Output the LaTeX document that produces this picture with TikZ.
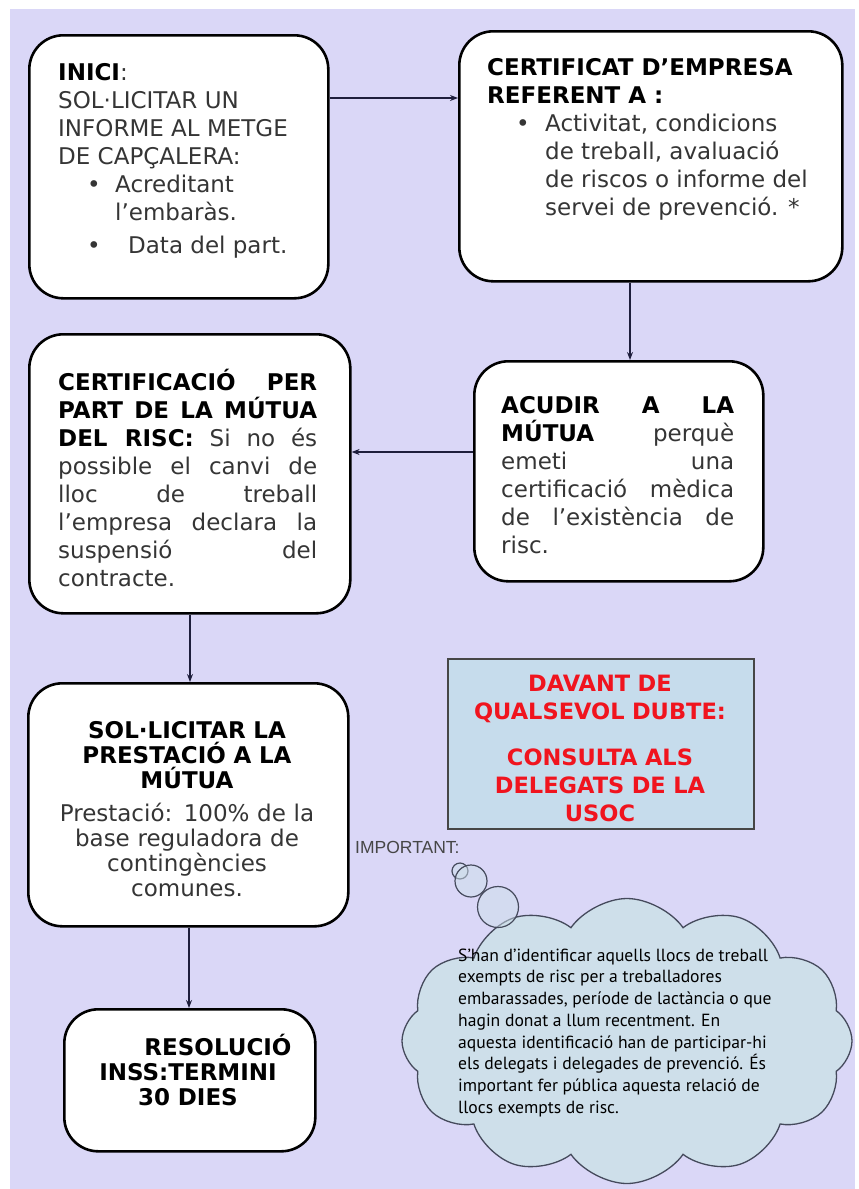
\documentclass[tikz,border=0pt]{standalone}
\usepackage{fontspec}
\setmainfont{DejaVu Sans}
\newfontfamily\cloudfont{PT Sans}
\newfontfamily\impfont{Liberation Sans}
\usetikzlibrary{arrows.meta,shapes.symbols,calc}
\definecolor{bg}{HTML}{DAD7F7}
\definecolor{body}{HTML}{353535}
\definecolor{linec}{HTML}{1E1E3C}
\definecolor{bluebox}{HTML}{C6DCEC}
\definecolor{cloudfill}{HTML}{CEDFEA}
\definecolor{cloudline}{HTML}{454A5C}
\definecolor{alertred}{HTML}{F0141E}
\newcommand{\fl}{\rule{0pt}{22pt}}
\begin{document}
\begin{tikzpicture}[x=1pt,y=-1pt,
  stepbox/.style={draw=black, line width=2.6pt, fill=white, rounded corners=34pt, anchor=north west, inner sep=0pt},
  txt/.style={anchor=north west, inner sep=0pt, font=\fontsize{23}{28}\selectfont, text=body, align=left},
  jtxt/.style={txt, align=justify},
  ctxt/.style={anchor=north, inner sep=0pt, text=body, align=center},
  arr/.style={draw=linec, line width=1.3pt, -{Stealth[length=8pt,width=6pt]}}]
\useasboundingbox (0,0) rectangle (859,1189);
\fill[white] (0,0) rectangle (859,1189);
\fill[bg] (10,9) rectangle (855,1189);

% boxes
\node[stepbox, minimum width=299pt, minimum height=263pt] (b1) at (28,34) {};
\node[stepbox, minimum width=383pt, minimum height=250pt] (b2) at (458,30) {};
\node[stepbox, minimum width=321pt, minimum height=279pt] (b3) at (28,333) {};
\node[stepbox, minimum width=289pt, minimum height=220pt] (b4) at (473,360) {};
\node[stepbox, minimum width=320pt, minimum height=243pt] (b5) at (27,682) {};
\node[stepbox, minimum width=251pt, minimum height=142pt] (b6) at (63,1008) {};

% texts
\node[txt] (t1) at (58,58.4) {\fl\textcolor{black}{\bfseries INICI}:\\
SOL·LICITAR UN\\
INFORME AL METGE\\
DE CAPÇALERA:\\
\makebox[57pt][l]{\hspace{29pt}•}Acreditant\\
\hspace*{57pt}l’embaràs.\\[5pt]
\makebox[70pt][l]{\hspace{29pt}•}Data del part.};

\node[txt] (t2) at (487,53.4) {\fl\textcolor{black}{\bfseries CERTIFICAT D’EMPRESA}\\
\textcolor{black}{\bfseries REFERENT A :}\\
\makebox[58pt][l]{\hspace{29pt}•}Activitat, condicions\\
\hspace*{58pt}de treball, avaluació\\
\hspace*{58pt}de riscos o informe del\\
\hspace*{58pt}servei de prevenció. *};

\node[jtxt, text width=259pt] (t3) at (58,368.4) {\fl\textcolor{black}{\bfseries CERTIFICACIÓ PER}\linebreak
\textcolor{black}{\bfseries PART DE LA MÚTUA}\linebreak
\textcolor{black}{\bfseries DEL RISC:} Si no és\linebreak
possible el canvi de\linebreak
lloc de treball\linebreak
l’empresa declara la\linebreak
suspensió del\linebreak
contracte.};

\node[jtxt, text width=233pt] (t4) at (501,391.4) {\fl\textcolor{black}{\bfseries ACUDIR A LA}\linebreak
\textcolor{black}{\bfseries MÚTUA} perquè\linebreak
emeti una\linebreak
certificació mèdica\linebreak
de l’existència de\linebreak
risc.};

\node[ctxt, text width=300pt, font=\fontsize{23}{25}\selectfont] (t5) at (187,716.4) {\fl\textcolor{black}{\bfseries SOL·LICITAR LA}\\
\textcolor{black}{\bfseries PRESTACIÓ A LA}\\
\textcolor{black}{\bfseries MÚTUA}\\[8pt]
Prestació: 100\% de la\\
base reguladora de\\
contingències\\
comunes.};

\node[ctxt, text width=250pt, font=\fontsize{23}{25}\selectfont\bfseries, text=black] (t6) at (188,1033.4) {\fl\hspace*{60pt}RESOLUCIÓ\\
INSS:TERMINI\\
30 DIES};

% connectors
\coordinate (y12) at (0,98);
\coordinate (x24) at (630,0);
\coordinate (y43) at (0,452);
\coordinate (x35) at (190,0);
\coordinate (x56) at (189,0);
\draw[arr] (b1.east |- y12) -- (b2.west |- y12);
\draw[arr] (b2.south -| x24) -- (b4.north -| x24);
\draw[arr] (b4.west |- y43) -- (b3.east |- y43);
\draw[arr] (b3.south -| x35) -- (b5.north -| x35);
\draw[arr] (b5.south -| x56) -- (b6.north -| x56);

% alert box
\node[draw=gray!55!black, line width=1.5pt, fill=bluebox, minimum width=306pt, minimum height=170pt, anchor=north west, inner sep=0pt] (bb) at (447,658) {};
\node[ctxt, text width=300pt, font=\fontsize{22.5}{28}\selectfont\bfseries, text=alertred] (tb) at (600,669.4) {\fl DAVANT DE\\
QUALSEVOL DUBTE:\\[18pt]
CONSULTA ALS\\
DELEGATS DE LA\\
USOC};

% important label
\node[anchor=west, inner sep=0pt, font=\impfont\fontsize{17.5}{19}\selectfont, text=gray!55!black] (imp) at (355,847) {IMPORTANT:};

% cloud callout
\node[cloud, cloud puffs=12, cloud puff arc=110, aspect=1.55, draw=cloudline, line width=1.3pt, fill=cloudfill, minimum width=450pt, minimum height=285pt, inner sep=0pt] (cl) at (627,1041) {};
\node[circle, draw=cloudline, line width=1.2pt, fill=cloudfill, fill opacity=0.5, draw opacity=1, minimum size=16pt, inner sep=0pt] (p1) at (460,871) {};
\node[circle, draw=cloudline, line width=1.2pt, fill=cloudfill, fill opacity=0.5, draw opacity=1, minimum size=32pt, inner sep=0pt] (p2) at (471,881) {};
\node[circle, draw=cloudline, line width=1.2pt, fill=cloudfill, fill opacity=0.5, draw opacity=1, minimum size=41pt, inner sep=0pt] (p3) at (498,907) {};
\node[anchor=north west, inner sep=0pt, align=left, font=\cloudfont\fontsize{17.6}{21.7}\selectfont, text=black] (tc) at (458,944) {\rule{0pt}{17pt}S’han d’identificar aquells llocs de treball\\
exempts de risc per a treballadores\\
embarassades, període de lactància o que\\
hagin donat a llum recentment. En\\
aquesta identificació han de participar-hi\\
els delegats i delegades de prevenció. És\\
important fer pública aquesta relació de\\
llocs exempts de risc.};
\end{tikzpicture}
\end{document}
